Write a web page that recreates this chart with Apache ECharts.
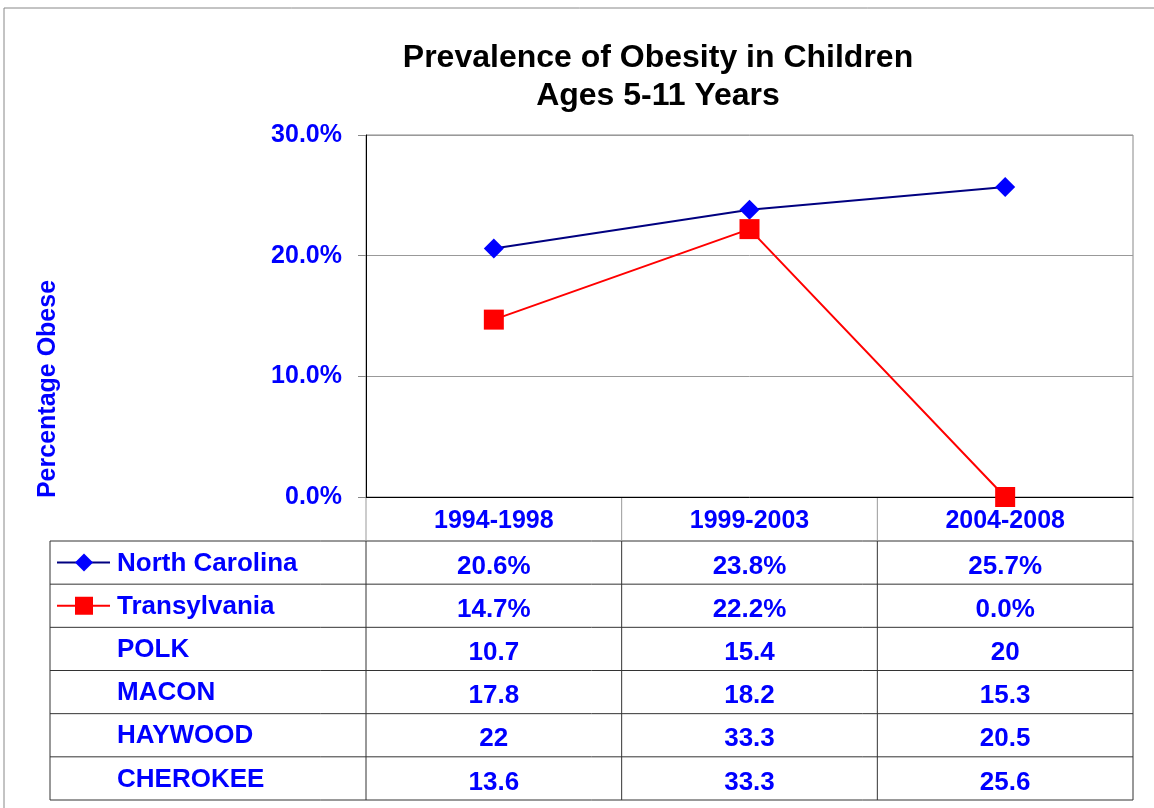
<!DOCTYPE html>
<html>
<head>
<meta charset="utf-8">
<title>Prevalence of Obesity in Children</title>
<script src="https://cdn.jsdelivr.net/npm/echarts@6/dist/echarts.min.js"></script>
<style>
  html, body { margin: 0; padding: 0; background: #fff; }
  #chart { width: 1154px; height: 808px; }
</style>
</head>
<body>
<div id="chart"></div>
<script>
// data
var periods = ['1994-1998', '1999-2003', '2004-2008'];
var northCarolina = [20.6, 23.8, 25.7];
var transylvania = [14.7, 22.2, 0.0];
var countyNames = ['POLK', 'MACON', 'HAYWOOD', 'CHEROKEE'];
var countyValues = [
    ['10.7', '15.4', '20'],
    ['17.8', '18.2', '15.3'],
    ['22', '33.3', '20.5'],
    ['13.6', '33.3', '25.6']
];
var yTicks = [0, 10, 20, 30];

var BLUE = '#0000ff';
var FONT = '"Liberation Sans", Arial, sans-serif';

// plot / table layout
var plotLeft = 366, plotTop = 135, plotRight = 1133, plotBottom = 497;
var tableLeft = 50, headerBottom = 541, tableBottom = 800;
var rowH = (tableBottom - headerBottom) / 6;
var colW = (plotRight - plotLeft) / periods.length;

function pct(v) { return v.toFixed(1) + '%'; }

function buildTable() {
    var els = [];
    var line = function (x1, y1, x2, y2, color, w) {
        els.push({
            type: 'line', silent: true,
            shape: { x1: x1, y1: y1, x2: x2, y2: y2 },
            style: { stroke: color || '#333', lineWidth: w || 1 }
        });
    };
    // horizontal lines
    for (var r = 0; r <= 6; r++) {
        var y = headerBottom + r * rowH;
        line(tableLeft, y, plotRight, y);
    }
    // vertical lines
    line(tableLeft, headerBottom, tableLeft, tableBottom);
    line(plotLeft, plotBottom, plotLeft, headerBottom, '#999');
    line(plotLeft, headerBottom, plotLeft, tableBottom);
    for (var c = 1; c < periods.length; c++) {
        var x = plotLeft + c * colW;
        line(x, plotBottom, x, headerBottom, '#999');
        line(x, headerBottom, x, tableBottom);
    }
    line(plotRight, plotBottom, plotRight, headerBottom, '#999');
    line(plotRight, headerBottom, plotRight, tableBottom);

    var rows = [
        { name: 'North Carolina', vals: northCarolina.map(pct) },
        { name: 'Transylvania', vals: transylvania.map(pct) }
    ];
    countyNames.forEach(function (n, i) {
        rows.push({ name: n, vals: countyValues[i] });
    });

    rows.forEach(function (row, i) {
        var cy = headerBottom + i * rowH + rowH / 2;
        els.push({
            type: 'text', silent: true,
            style: {
                x: 117, y: cy + 1, text: row.name, fill: BLUE,
                font: 'bold 26px ' + FONT, textVerticalAlign: 'middle'
            }
        });
        row.vals.forEach(function (v, j) {
            els.push({
                type: 'text', silent: true,
                style: {
                    x: plotLeft + colW * (j + 0.5), y: cy + 4, text: v, fill: BLUE,
                    font: 'bold 26px ' + FONT, textAlign: 'center', textVerticalAlign: 'middle'
                }
            });
        });
    });

    // legend keys
    var y0 = headerBottom + rowH / 2;
    line(57, y0, 110, y0, '#000080', 2);
    els.push({
        type: 'polygon', silent: true,
        shape: { points: [[84, y0 - 9], [93, y0], [84, y0 + 9], [75, y0]] },
        style: { fill: BLUE }
    });
    var y1 = headerBottom + rowH * 1.5;
    line(57, y1, 110, y1, '#ff0000', 2);
    els.push({
        type: 'rect', silent: true,
        shape: { x: 75, y: y1 - 9, width: 18, height: 18 },
        style: { fill: '#ff0000' }
    });

    // y axis title
    els.push({
        type: 'text', silent: true,
        x: 48, y: 389, rotation: Math.PI / 2,
        style: {
            x: 0, y: 0, text: 'Percentage Obese', fill: BLUE,
            font: 'bold 25px ' + FONT, textAlign: 'center', textVerticalAlign: 'middle'
        }
    });

    // outer chart border
    els.push({
        type: 'polyline', silent: true,
        shape: { points: [[4, 808], [4, 8], [1160, 8]] },
        style: { stroke: '#888', lineWidth: 1, fill: null }
    });
    return els;
}

var chart = echarts.init(document.getElementById('chart'));
chart.setOption({
    backgroundColor: '#fff',
    animation: false,
    title: {
        text: 'Prevalence of Obesity in Children\nAges 5-11 Years',
        left: 653, top: 34, textAlign: 'center',
        textStyle: { color: '#000', fontFamily: FONT, fontWeight: 'bold', fontSize: 32, lineHeight: 38 }
    },
    grid: {
        left: plotLeft, top: plotTop, right: 1154 - plotRight, bottom: 808 - plotBottom,
        show: true, borderColor: '#888', borderWidth: 1, backgroundColor: '#fff'
    },
    xAxis: {
        type: 'category',
        data: periods,
        axisLine: { lineStyle: { color: '#000', width: 1 } },
        axisTick: { show: false },
        axisLabel: { color: BLUE, fontFamily: FONT, fontWeight: 'bold', fontSize: 25, margin: 12 }
    },
    yAxis: {
        type: 'value',
        min: yTicks[0], max: yTicks[yTicks.length - 1], interval: 10,
        axisLine: { show: true, lineStyle: { color: '#000', width: 1 } },
        axisTick: { show: true, length: 8, lineStyle: { color: '#888' } },
        splitLine: { lineStyle: { color: '#999', width: 1 } },
        axisLabel: {
            color: BLUE, fontFamily: FONT, fontWeight: 'bold', fontSize: 25, margin: 24,
            padding: [5, 0, 0, 0],
            formatter: function (v) { return pct(v); }
        }
    },
    series: [
        {
            name: 'North Carolina', type: 'line', data: northCarolina,
            symbol: 'diamond', symbolSize: [20, 20],
            lineStyle: { color: '#000080', width: 2 },
            itemStyle: { color: BLUE }
        },
        {
            name: 'Transylvania', type: 'line', data: transylvania,
            symbol: 'rect', symbolSize: 20,
            lineStyle: { color: '#ff0000', width: 2 },
            itemStyle: { color: '#ff0000' }
        }
    ],
    graphic: buildTable()
});
</script>
</body>
</html>
